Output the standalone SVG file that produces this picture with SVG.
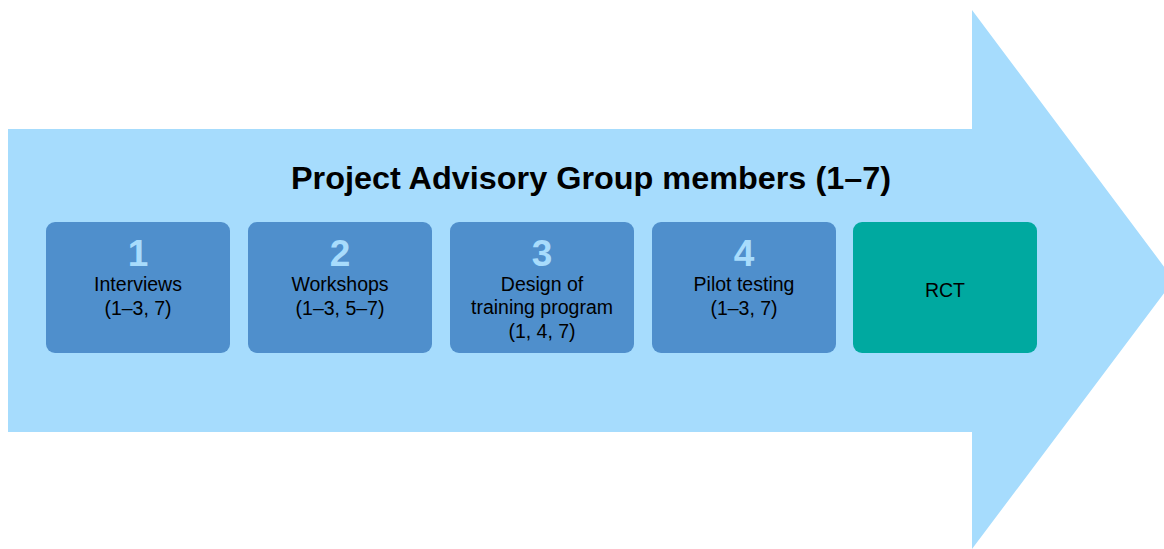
<svg xmlns="http://www.w3.org/2000/svg" width="1164" height="549" viewBox="0 0 1164 549">
  <style>
    .arrow { fill: #a6dcfd; }
    .step { fill: #4f8fcc; }
    .rct { fill: #00a9a0; }
    .title { font-family: "Liberation Sans", Arial, sans-serif; font-weight: bold; font-size: 31px; fill: #000; text-anchor: middle; }
    .num { font-family: "Liberation Sans", Arial, sans-serif; font-weight: bold; font-size: 37px; fill: #a8dcfc; text-anchor: middle; }
    .lbl { font-family: "Liberation Sans", Arial, sans-serif; font-size: 19.5px; fill: #000; text-anchor: middle; }
  </style>
  <rect width="1164" height="549" fill="#ffffff"/>
  <!-- large background arrow -->
  <g id="background-arrow">
    <polygon class="arrow" points="8,129 972,129 972,10 1174,280 972,549 972,432 8,432"/>
    <text class="title" x="591" y="189" textLength="600" lengthAdjust="spacingAndGlyphs">Project Advisory Group members (1–7)</text>
  </g>
  <g id="step1">
    <rect class="step" x="46" y="222" width="184" height="131" rx="9"/>
    <text class="num" x="138" y="266">1</text>
    <text class="lbl" x="138" y="291">Interviews</text>
    <text class="lbl" x="138" y="315">(1–3, 7)</text>
  </g>
  <g id="step2">
    <rect class="step" x="248" y="222" width="184" height="131" rx="9"/>
    <text class="num" x="340" y="266">2</text>
    <text class="lbl" x="340" y="291">Workshops</text>
    <text class="lbl" x="340" y="315">(1–3, 5–7)</text>
  </g>
  <g id="step3">
    <rect class="step" x="450" y="222" width="184" height="131" rx="9"/>
    <text class="num" x="542" y="266">3</text>
    <text class="lbl" x="542" y="291">Design of</text>
    <text class="lbl" x="542" y="314">training program</text>
    <text class="lbl" x="542" y="338">(1, 4, 7)</text>
  </g>
  <g id="step4">
    <rect class="step" x="652" y="222" width="184" height="131" rx="9"/>
    <text class="num" x="744" y="266">4</text>
    <text class="lbl" x="744" y="291">Pilot testing</text>
    <text class="lbl" x="744" y="315">(1–3, 7)</text>
  </g>
  <g id="rct">
    <rect class="rct" x="853" y="222" width="184" height="131" rx="9"/>
    <text class="lbl" x="945" y="297">RCT</text>
  </g>
  <g id="connectors"></g>
</svg>
